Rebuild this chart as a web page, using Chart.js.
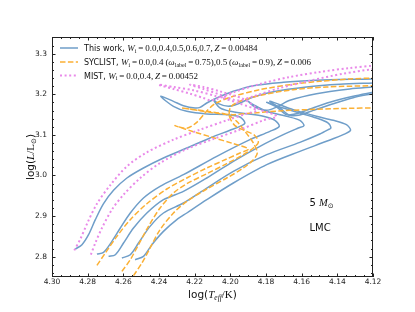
<!DOCTYPE html>
<html>
<head>
<meta charset="utf-8">
<script src="https://cdn.jsdelivr.net/npm/chart.js@4.4.0/dist/chart.umd.min.js"></script>
<style>
  body { margin: 0; background: #fff; }
  #wrap { width: 415px; height: 312px; position: relative; }
</style>
</head>
<body>
<div id="wrap"><canvas id="hrd"></canvas></div>
<script>
// axis ticks
const xTicks = [4.30, 4.28, 4.26, 4.24, 4.22, 4.20, 4.18, 4.16, 4.14, 4.12];
const yTicks = [2.8, 2.9, 3.0, 3.1, 3.2, 3.3];

// This work, W = 0.0, 0.4, 0.5, 0.6, 0.7
const logT_w00 = [4.2869,4.2832,4.2795,4.2757,4.2711,4.2655,4.2580,4.2487,4.2375,4.2244,4.2114,4.2002,4.1946,4.1918,4.1946,4.2020,4.2132,4.2244,4.2319,4.2390,4.2319,4.2263,4.2198,4.2170,4.2132,4.2076,4.1983,4.1871,4.1703,4.1517,4.1330,4.1200];
const logL_w00 = [2.8189,2.8296,2.8542,2.8911,2.9305,2.9634,2.9938,3.0184,3.0430,3.0677,3.0923,3.1112,3.1210,3.1292,3.1440,3.1498,3.1514,3.1580,3.1703,3.1949,3.1826,3.1719,3.1662,3.1678,3.1785,3.1908,3.2072,3.2212,3.2294,3.2343,3.2368,3.2376];
const logT_w04 = [4.2748,4.2711,4.2664,4.2617,4.2561,4.2487,4.2394,4.2263,4.2076,4.1890,4.1778,4.1726,4.1750,4.1815,4.1908,4.2002,4.2058,4.2095,4.2067,4.2011,4.1955,4.1871,4.1759,4.1573,4.1386,4.1200];
const logL_w04 = [2.8066,2.8107,2.8378,2.8706,2.9076,2.9445,2.9732,3.0020,3.0471,3.0882,3.1087,3.1210,3.1358,3.1457,3.1522,3.1580,3.1662,3.1867,3.1768,3.1703,3.1768,3.1933,3.2064,3.2179,3.2245,3.2278];
const logT_w05 = [4.2683,4.2645,4.2599,4.2543,4.2468,4.2375,4.2263,4.2132,4.1983,4.1834,4.1703,4.1619,4.1587,4.1610,4.1684,4.1796,4.1871,4.1899,4.1862,4.1796,4.1740,4.1666,4.1517,4.1330,4.1200];
const logL_w05 = [2.8008,2.8049,2.8337,2.8706,2.9076,2.9404,2.9609,2.9938,3.0348,3.0718,3.1005,3.1169,3.1227,3.1358,3.1457,3.1580,3.1744,3.1826,3.1686,3.1604,3.1686,3.1851,3.2015,3.2130,3.2179];
const logT_w06 = [4.2608,4.2561,4.2515,4.2450,4.2375,4.2263,4.2132,4.1983,4.1796,4.1610,4.1498,4.1451,4.1436,4.1451,4.1517,4.1610,4.1722,4.1796,4.1740,4.1684,4.1628,4.1554,4.1442,4.1311,4.1200];
const logL_w06 = [2.7967,2.8049,2.8337,2.8747,2.9076,2.9322,2.9691,3.0102,3.0512,3.0816,3.1021,3.1128,3.1169,3.1292,3.1415,3.1539,3.1686,3.1801,3.1686,3.1498,3.1522,3.1637,3.1801,3.1949,3.2048];
const logT_w07 = [4.2534,4.2487,4.2440,4.2375,4.2300,4.2244,4.2132,4.1983,4.1796,4.1610,4.1461,4.1367,4.1326,4.1349,4.1423,4.1517,4.1647,4.1778,4.1722,4.1666,4.1610,4.1535,4.1423,4.1311,4.1200];
const logL_w07 = [2.7926,2.8008,2.8296,2.8624,2.8911,2.9076,2.9404,2.9815,3.0266,3.0594,3.0841,3.1005,3.1112,3.1251,3.1358,3.1457,3.1621,3.1826,3.1662,3.1481,3.1489,3.1604,3.1768,3.1916,3.2015];

// SYCLIST
const logT_syc00 = [4.2748,4.2701,4.2636,4.2561,4.2468,4.2356,4.2244,4.2132,4.2020,4.1946,4.1899,4.1983,4.2095,4.2207,4.2310,4.2244,4.2188,4.2142,4.2086,4.1983,4.1834,4.1666,4.1498,4.1330,4.1200];
const logL_syc00 = [2.7787,2.8090,2.8501,2.8911,2.9305,2.9667,2.9938,3.0184,3.0406,3.0553,3.0652,3.0783,3.0931,3.1079,3.1227,3.1161,3.1309,3.1539,3.1768,3.1949,3.2113,3.2236,3.2319,3.2376,3.2401];
const logT_syc04 = [4.2608,4.2561,4.2515,4.2459,4.2394,4.2319,4.2244,4.2132,4.2020,4.1927,4.1871,4.1843,4.1862,4.1908,4.1974,4.2005,4.1998,4.1946,4.1815,4.1647,4.1461,4.1200];
const logL_syc04 = [2.7639,2.7926,2.8296,2.8747,2.9199,2.9568,2.9798,3.0044,3.0291,3.0512,3.0677,3.0816,3.0980,3.1087,3.1227,3.1457,3.1686,3.1826,3.1990,3.2113,3.2179,3.2212];
const logT_syc05 = [4.2543,4.2496,4.2450,4.2394,4.2319,4.2244,4.2132,4.2020,4.1927,4.1871,4.1849,4.1871,4.1918,4.1964,4.2020,4.2132,4.2272,4.2170,4.2058,4.1983,4.1871,4.1703,4.1517,4.1330,4.1200];
const logL_syc05 = [2.7532,2.7844,2.8214,2.8665,2.9076,2.9363,2.9667,2.9938,3.0184,3.0389,3.0553,3.0800,3.1087,3.1333,3.1498,3.1580,3.1662,3.1596,3.1522,3.1498,3.1539,3.1596,3.1629,3.1654,3.1662];

// MIST
const logT_mist00 = [4.2875,4.2841,4.2800,4.2748,4.2673,4.2580,4.2468,4.2319,4.2170,4.2020,4.1908,4.1852,4.1946,4.2076,4.2207,4.2319,4.2403,4.2319,4.2226,4.2151,4.2114,4.2076,4.1983,4.1834,4.1666,4.1498,4.1330,4.1200];
const logL_mist00 = [2.8156,2.8435,2.8846,2.9305,2.9765,3.0225,3.0570,3.0882,3.1128,3.1358,3.1522,3.1604,3.1768,3.1949,3.2097,3.2179,3.2236,3.2130,3.2015,3.1908,3.1851,3.1883,3.2048,3.2253,3.2425,3.2548,3.2647,3.2704];
const logT_mist04 = [4.2782,4.2757,4.2720,4.2664,4.2599,4.2505,4.2394,4.2244,4.2095,4.1946,4.1815,4.1740,4.1834,4.1927,4.2058,4.2151,4.2226,4.2151,4.2058,4.1983,4.1946,4.1871,4.1722,4.1554,4.1367,4.1200];
const logL_mist04 = [2.8049,2.8337,2.8706,2.9158,2.9527,2.9938,3.0307,3.0652,3.0898,3.1128,3.1358,3.1457,3.1621,3.1883,3.2072,3.2179,3.2236,3.2130,3.1990,3.1867,3.1851,3.1949,3.2154,3.2335,3.2507,3.2622];

const blue = "#6f9ec9";
const orange = "#fbb034";
const pink = "#e98ae9";

function pts(xs, ys) {
    return xs.map((x, i) => ({ x: x, y: ys[i] }));
}

function track(xs, ys, color, kind) {
    const ds = {
        data: pts(xs, ys),
        showLine: true,
        pointRadius: 0,
        borderColor: color,
        borderWidth: 1.5,
        tension: 0.3
    };
    if (kind === "dash") { ds.borderDash = [5.5, 2.4]; ds.order = 2; }
    else if (kind === "dot") { ds.borderDash = [2, 2.6]; ds.borderWidth = 2; ds.order = 1; }
    else { ds.order = 3; }
    return ds;
}

const datasets = [
    track(logT_w00, logL_w00, blue),
    track(logT_w04, logL_w04, blue),
    track(logT_w05, logL_w05, blue),
    track(logT_w06, logL_w06, blue),
    track(logT_w07, logL_w07, blue),
    track(logT_syc00, logL_syc00, orange, "dash"),
    track(logT_syc04, logL_syc04, orange, "dash"),
    track(logT_syc05, logL_syc05, orange, "dash"),
    track(logT_mist00, logL_mist00, pink, "dot"),
    track(logT_mist04, logL_mist04, pink, "dot")
];

// draw a run of text pieces with different fonts, returns end x
function rich(ctx, x, y, segs) {
    let cx = x;
    segs.forEach(s => {
        ctx.font = s.f;
        ctx.fillText(s.t, cx, y + (s.dy || 0));
        cx += ctx.measureText(s.t).width;
    });
    return cx;
}
function richWidth(ctx, segs) {
    let w = 0;
    segs.forEach(s => { ctx.font = s.f; w += ctx.measureText(s.t).width; });
    return w;
}

const sans = '8px "DejaVu Sans"';
const mi = 'italic 9px "Liberation Serif"';
const mr = '9px "Liberation Serif"';
const sub = '6px "Liberation Serif"';
const eq = "\u2009=\u2009";

const decor = {
    id: "decor",
    afterDraw(chart) {
        const ctx = chart.ctx;
        const a = chart.chartArea;
        const xs = chart.scales.x, ys = chart.scales.y;
        ctx.save();
        ctx.strokeStyle = "#222";
        ctx.lineWidth = 1;
        ctx.strokeRect(a.left + 0.5, a.top + 0.5, a.right - a.left - 1, a.bottom - a.top - 1);

        // inward ticks on all four sides
        ctx.beginPath();
        for (let k = 0; k <= 36; k++) {
            const v = 4.12 + k * 0.005;
            const p = Math.round(xs.getPixelForValue(v)) + 0.5;
            const len = k % 4 === 0 ? 3.5 : 2;
            ctx.moveTo(p, a.bottom); ctx.lineTo(p, a.bottom - len);
            ctx.moveTo(p, a.top); ctx.lineTo(p, a.top + len);
        }
        for (let k = 0; k <= 29; k++) {
            const v = 2.76 + k * 0.02;
            const p = Math.round(ys.getPixelForValue(v)) + 0.5;
            const major = Math.abs(v * 10 - Math.round(v * 10)) < 1e-6;
            const len = major ? 3.5 : 2;
            ctx.moveTo(a.left, p); ctx.lineTo(a.left + len, p);
            ctx.moveTo(a.right, p); ctx.lineTo(a.right - len, p);
        }
        ctx.stroke();

        // legend
        const lx0 = 60, lx1 = 78, tx = 84;
        const rows = [
            { y: 48, color: blue, dash: [], w: 1.5,
              segs: [{ t: "This work, ", f: sans }, { t: "W", f: mi }, { t: "i", f: sub, dy: 1.5 },
                     { t: eq + "0.0,0.4,0.5,0.6,0.7,\u2009", f: mr }, { t: "Z", f: mi }, { t: eq + "0.00484", f: mr }] },
            { y: 62, color: orange, dash: [5.5, 2.4], w: 1.5,
              segs: [{ t: "SYCLIST, ", f: sans }, { t: "W", f: mi }, { t: "i", f: sub, dy: 1.5 },
                     { t: eq + "0.0,0.4\u2009(", f: mr }, { t: "\u03c9", f: mi }, { t: "label", f: sub, dy: 1.5 },
                     { t: eq + "0.75),0.5\u2009(", f: mr }, { t: "\u03c9", f: mi }, { t: "label", f: sub, dy: 1.5 },
                     { t: eq + "0.9),\u2009", f: mr }, { t: "Z", f: mi }, { t: eq + "0.006", f: mr }] },
            { y: 75.5, color: pink, dash: [2, 2.6], w: 2,
              segs: [{ t: "MIST, ", f: sans }, { t: "W", f: mi }, { t: "i", f: sub, dy: 1.5 },
                     { t: eq + "0.0,0.4,\u2009", f: mr }, { t: "Z", f: mi }, { t: eq + "0.00452", f: mr }] }
        ];
        rows.forEach(r => {
            ctx.beginPath();
            ctx.strokeStyle = r.color;
            ctx.lineWidth = r.w;
            ctx.setLineDash(r.dash);
            ctx.moveTo(lx0, r.y); ctx.lineTo(lx1, r.y);
            ctx.stroke();
            ctx.setLineDash([]);
            ctx.fillStyle = "#111";
            ctx.textBaseline = "alphabetic";
            rich(ctx, tx, r.y + 3, r.segs);
        });

        // annotations
        ctx.fillStyle = "#111";
        rich(ctx, 309.5, 206, [{ t: "5 ", f: '10px "DejaVu Sans"' }, { t: "M", f: 'italic 10.5px "Liberation Serif"' },
                              { t: "\u2299", f: '7px "DejaVu Sans"', dy: 2 }]);
        rich(ctx, 309.5, 231, [{ t: "LMC", f: '10px "DejaVu Sans"' }]);

        // x label
        const xl = [{ t: "log(", f: '10.5px "DejaVu Sans"' }, { t: "T", f: 'italic 11px "Liberation Serif"' },
                    { t: "eff", f: 'italic 7.5px "Liberation Serif"', dy: 2 }, { t: "/K", f: '11px "Liberation Serif"' },
                    { t: ")", f: '10.5px "DejaVu Sans"' }];
        const xw = richWidth(ctx, xl);
        rich(ctx, (a.left + a.right) / 2 - xw / 2, 298, xl);

        // y label
        const yl = [{ t: "log(", f: '10.5px "DejaVu Sans"' }, { t: "L", f: 'italic 11px "Liberation Serif"' },
                    { t: "/L", f: '11px "Liberation Serif"' }, { t: "\u2299", f: '7px "DejaVu Sans"', dy: 2 },
                    { t: ")", f: '10.5px "DejaVu Sans"' }];
        const yw = richWidth(ctx, yl);
        ctx.translate(34, (a.top + a.bottom) / 2);
        ctx.rotate(-Math.PI / 2);
        rich(ctx, -yw / 2, 0, yl);
        ctx.restore();
    }
};

new Chart(document.getElementById("hrd"), {
    type: "scatter",
    data: { datasets: datasets },
    options: {
        responsive: true,
        maintainAspectRatio: false,
        animation: false,
        layout: { padding: { top: 37, right: 42, left: 0, bottom: 0 } },
        plugins: { legend: { display: false }, tooltip: { enabled: false } },
        scales: {
            x: {
                type: "linear",
                reverse: true,
                min: 4.12,
                max: 4.30,
                grid: { display: false, drawTicks: false },
                border: { display: false },
                afterBuildTicks: s => { s.ticks = xTicks.map(v => ({ value: v })); },
                afterFit: s => { s.height = 35; },
                ticks: {
                    padding: 1,
                    color: "#222",
                    font: { family: "DejaVu Sans", size: 7.5 },
                    callback: v => v.toFixed(2),
                    maxRotation: 0,
                    autoSkip: false
                }
            },
            y: {
                type: "linear",
                min: 2.75,
                max: 3.341,
                grid: { display: false, drawTicks: false },
                border: { display: false },
                afterBuildTicks: s => { s.ticks = yTicks.map(v => ({ value: v })); },
                afterFit: s => { s.width = 52; },
                ticks: {
                    padding: 5,
                    color: "#222",
                    font: { family: "DejaVu Sans", size: 7.5 },
                    callback: v => v.toFixed(1),
                    autoSkip: false
                }
            }
        }
    },
    plugins: [decor]
});
</script>
</body>
</html>
